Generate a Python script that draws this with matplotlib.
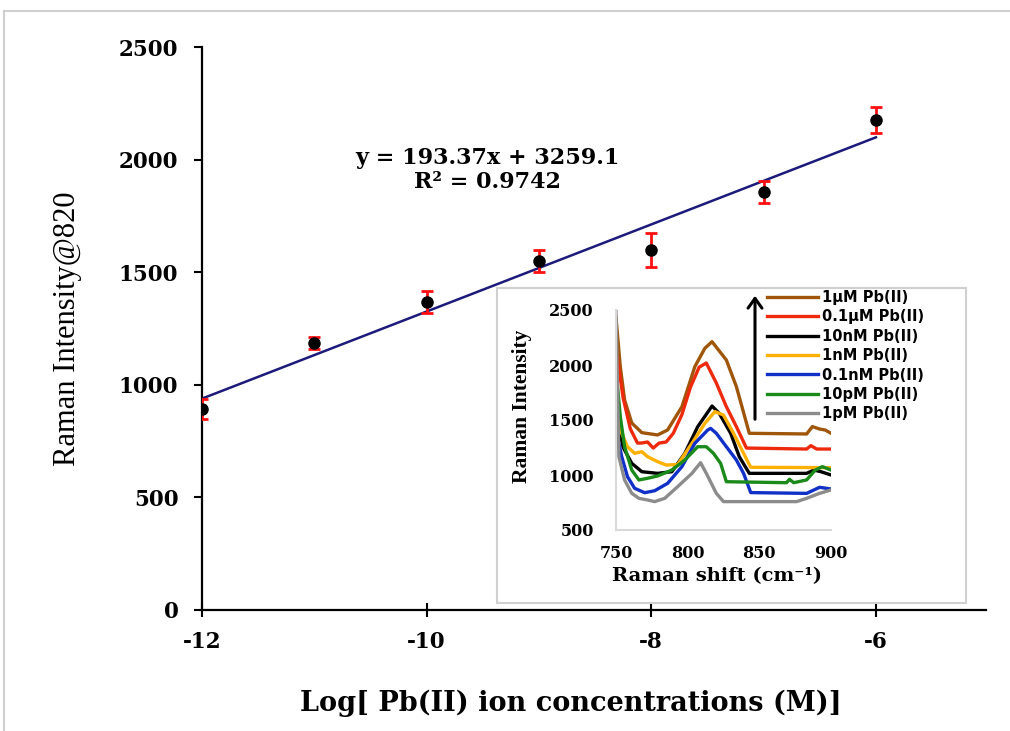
import matplotlib
matplotlib.use('Agg')
import matplotlib.pyplot as plt
from matplotlib.lines import Line2D
from matplotlib.patches import Rectangle, FancyArrowPatch
import numpy as np

plt.rcParams['axes.unicode_minus'] = False

# calibration points: log concentration vs. Raman intensity at 820 cm-1
log_conc = [-12, -11, -10, -9, -8, -7, -6]
intensity = [893, 1186, 1368, 1550, 1599, 1856, 2175]
intensity_err = [45, 25, 48, 50, 75, 50, 57]
slope, intercept = 193.37, 3259.1
r_squared = 0.9742

# inset spectra (Raman shift in cm-1, intensity)
spectra = {
    '1µM Pb(II)': (
        [750, 753, 756, 761, 768, 779, 786, 796, 805, 812, 817, 827, 834, 843, 883, 887, 892, 896, 900],
        [2430, 1985, 1682, 1473, 1385, 1364, 1409, 1621, 1985, 2152, 2212, 2045, 1803, 1379, 1373, 1440, 1418, 1409, 1379]),
    '0.1µM Pb(II)': (
        [750, 755, 760, 765, 768, 772, 776, 780, 785, 790, 796, 802, 808, 813, 820, 827, 834, 841, 883, 886, 890, 900],
        [2150, 1700, 1420, 1290, 1291, 1300, 1245, 1290, 1300, 1380, 1550, 1800, 1980, 2018, 1836, 1621, 1439, 1245, 1236, 1267, 1236, 1236]),
    '10nM Pb(II)': (
        [750, 755, 761, 768, 779, 789, 798, 807, 817, 822, 830, 836, 843, 883, 888, 893, 900],
        [1550, 1250, 1106, 1030, 1015, 1030, 1197, 1439, 1627, 1561, 1379, 1167, 1015, 1015, 1045, 1030, 1000]),
    '1nM Pb(II)': (
        [750, 754, 758, 763, 768, 772, 779, 785, 793, 803, 812, 819, 825, 832, 839, 844, 900],
        [1682, 1379, 1257, 1197, 1212, 1167, 1121, 1091, 1095, 1288, 1470, 1576, 1545, 1379, 1197, 1070, 1067]),
    '0.1nM Pb(II)': (
        [750, 754, 758, 763, 770, 777, 786, 796, 805, 814, 816, 820, 827, 834, 839, 844, 883, 892, 900],
        [1409, 1167, 985, 879, 839, 857, 924, 1076, 1288, 1409, 1424, 1379, 1257, 1136, 1015, 840, 833, 888, 873]),
    '10pM Pb(II)': (
        [750, 753, 756, 761, 766, 772, 779, 789, 798, 807, 813, 818, 823, 827, 869, 871, 874, 883, 889, 894, 900],
        [1955, 1530, 1257, 1045, 955, 970, 991, 1045, 1136, 1257, 1257, 1197, 1106, 939, 930, 961, 930, 955, 1045, 1076, 1045]),
    '1pM Pb(II)': (
        [750, 752, 756, 761, 766, 772, 777, 784, 793, 803, 809, 813, 820, 825, 876, 883, 892, 900],
        [2485, 1167, 955, 833, 788, 773, 758, 788, 894, 1015, 1112, 1015, 833, 758, 758, 788, 833, 864]),
}
spectra_colors = ['#a0560a', '#ee2a0c', '#000000', '#ffb000', '#1030c8', '#1a8a1a', '#8c8c8c']

W, H = 1010, 731
fig = plt.figure(figsize=(W / 100, H / 100), dpi=100)

# thin grey frame along top and left edge
fig.add_artist(Line2D([4 / W, 4 / W], [0, 1 - 11 / H], color='#cfcfcf', lw=1.5))
fig.add_artist(Line2D([4 / W, 1], [1 - 11 / H, 1 - 11 / H], color='#cfcfcf', lw=1.5))

ax = fig.add_axes([202 / W, 121 / H, 784 / W, 563 / H])
ax.set_xlim(-12, -5.02)
ax.set_ylim(0, 2500)
for s in ['top', 'right']:
    ax.spines[s].set_visible(False)
for s in ['left', 'bottom']:
    ax.spines[s].set_linewidth(1.6)

fit_x = np.array([-12, -6])
ax.plot(fit_x, slope * fit_x + intercept, color='#1c1a7a', lw=1.8, zorder=2)
ax.errorbar(log_conc, intensity, yerr=intensity_err, fmt='o', color='black',
            ms=8, ecolor='#ff1010', elinewidth=2, capsize=4, capthick=2, zorder=3)

ax.set_xticks([-12, -10, -8, -6])
ax.set_yticks([0, 500, 1000, 1500, 2000, 2500])
ax.tick_params(axis='y', direction='out', length=6, width=1.5, pad=11)
ax.tick_params(axis='x', direction='inout', length=10, width=1.5, pad=10)
for lab in ax.get_xticklabels() + ax.get_yticklabels():
    lab.set_fontfamily('DejaVu Serif')
    lab.set_fontweight('bold')
    lab.set_fontsize(15.5)

ax.set_xlabel('Log[ Pb(II) ion concentrations (M)]', fontfamily='DejaVu Serif',
              fontweight='bold', fontsize=19.5)
ax.xaxis.set_label_coords(0.471, -0.142)
ax.set_ylabel('Raman Intensity@820', fontfamily='Liberation Serif', fontsize=22)
ax.yaxis.set_label_coords(-0.153, 0.50)

ax.text(-9.46, 1954, f'y = {slope}x + {intercept}\nR² = {r_squared}', ha='center', va='center',
        fontfamily='DejaVu Serif', fontweight='bold', fontsize=16, linespacing=1.15)

# inset: white panel with grey border holding the spectra
fig.add_artist(Rectangle((497 / W, 1 - 603 / H), 469 / W, 315 / H, transform=fig.transFigure,
                         facecolor='white', edgecolor='#d0d0d0', lw=1.5, zorder=3))

ins = fig.add_axes([616 / W, 201 / H, 215 / W, 220 / H], zorder=4)
ins.patch.set_alpha(0)
ins.set_xlim(750, 900)
ins.set_ylim(500, 2500)
for s in ['top', 'right']:
    ins.spines[s].set_visible(False)
for s in ['left', 'bottom']:
    ins.spines[s].set_color('#d9d9d9')
    ins.spines[s].set_linewidth(1.5)
ins.set_xticks([750, 800, 850, 900])
ins.set_yticks([500, 1000, 1500, 2000, 2500])
ins.tick_params(axis='y', length=0, pad=16)
ins.tick_params(axis='x', length=0, pad=11)
for lab in ins.get_xticklabels() + ins.get_yticklabels():
    lab.set_fontfamily('DejaVu Serif')
    lab.set_fontweight('bold')
    lab.set_fontsize(11.5)

handles = []
for (name, (xs, ys)), c in zip(spectra.items(), spectra_colors):
    h, = ins.plot(xs, ys, color=c, lw=2.4, label=name)
    handles.append(h)

ins.set_xlabel('Raman shift (cm⁻¹)', fontfamily='DejaVu Serif', fontweight='bold', fontsize=14)
ins.xaxis.set_label_coords(0.47, -0.17)
ins.set_ylabel('Raman Intensity', fontfamily='Liberation Serif', fontweight='bold', fontsize=15.5)
ins.yaxis.set_label_coords(-0.39, 0.56)

leg = fig.legend(handles=handles, loc='upper left', bbox_to_anchor=(767 / W, 1 - 290 / H),
                 frameon=False, handlelength=3.5, handletextpad=0.25, labelspacing=0.3,
                 borderaxespad=0, borderpad=0,
                 prop={'family': 'DejaVu Sans', 'weight': 'bold', 'size': 10.5})
leg.set_zorder(5)

fig.add_artist(FancyArrowPatch(
    (755 / W, 1 - 422 / H), (755 / W, 1 - 293 / H), transform=fig.transFigure,
    arrowstyle='->,head_width=5,head_length=7', color='black', lw=2.2, zorder=5))

fig.savefig('out.png', dpi=100)
